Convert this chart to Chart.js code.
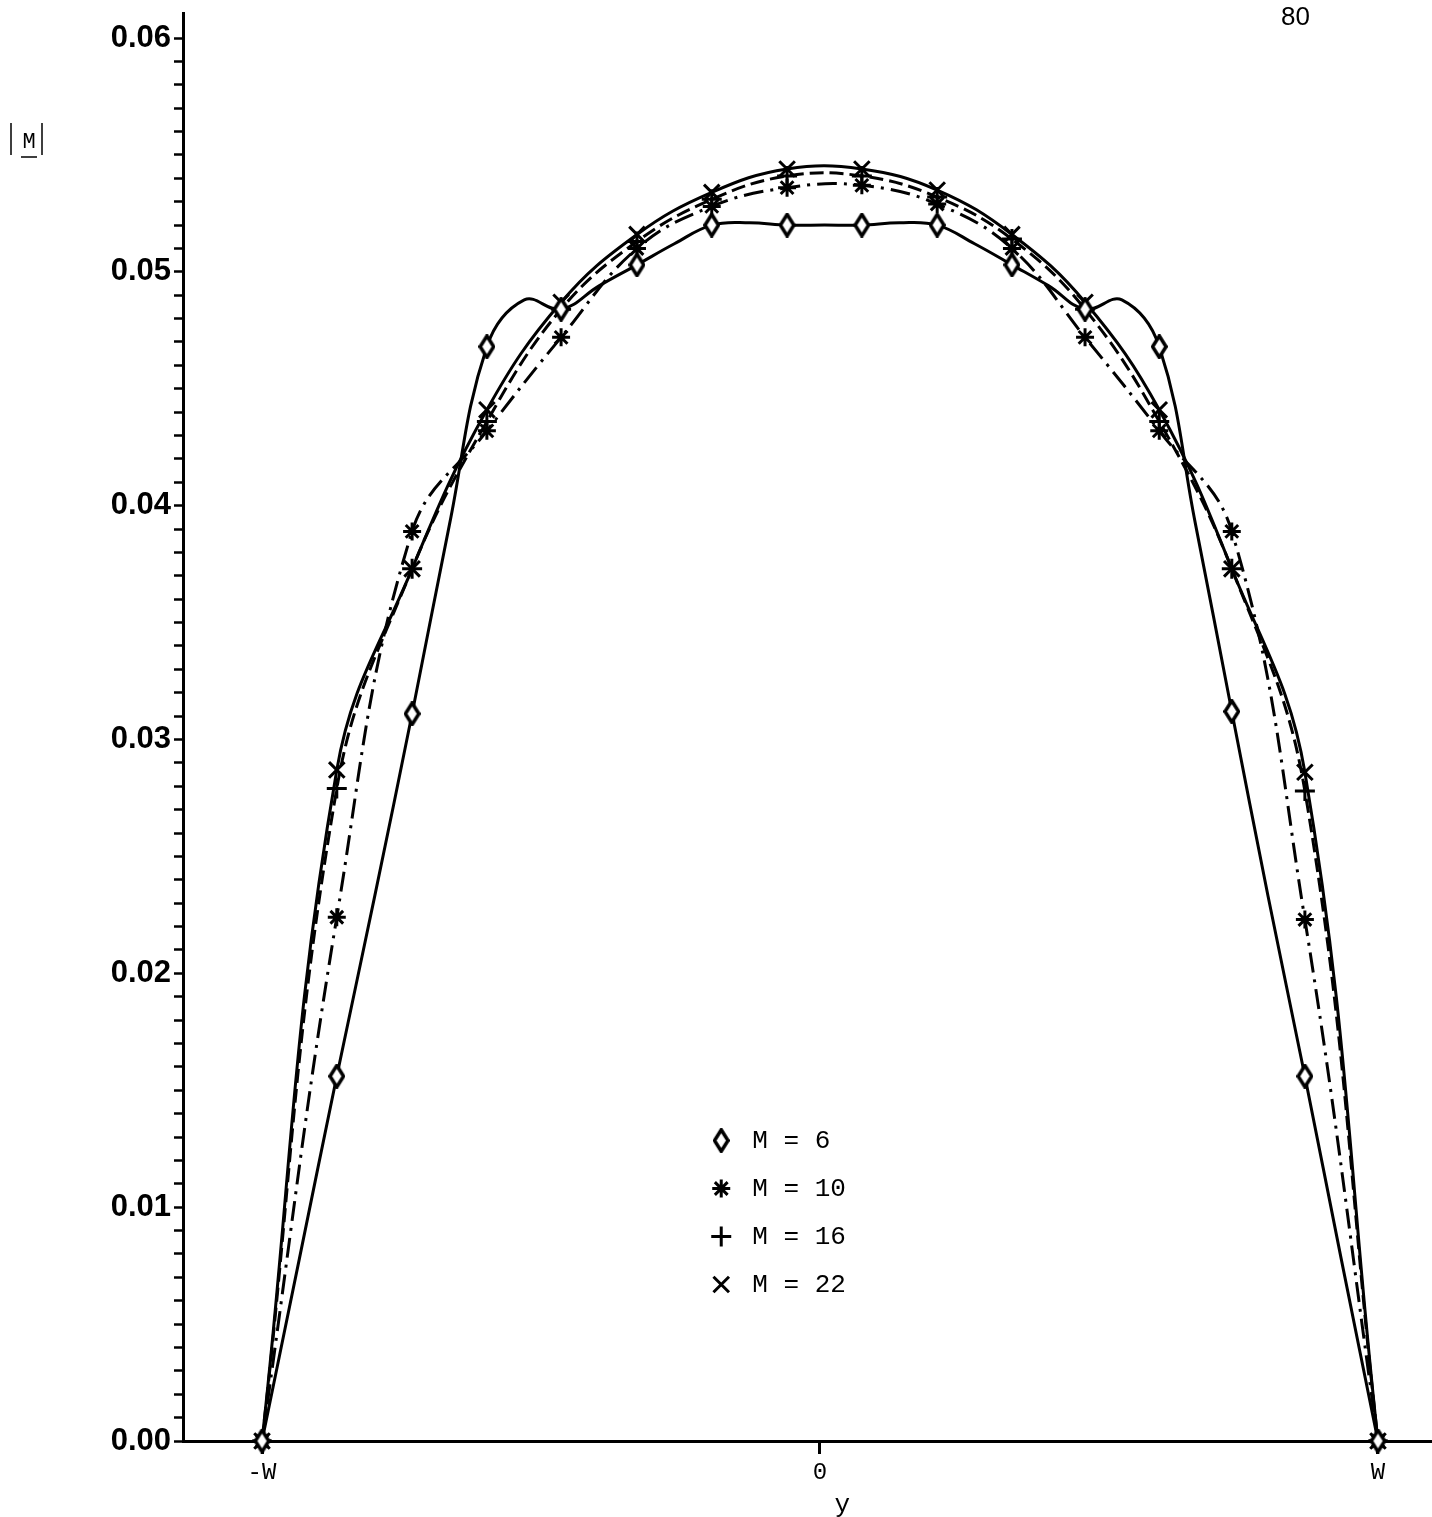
<!DOCTYPE html>
<html>
<head>
<meta charset="utf-8">
<title>|M| across the strip</title>
<script src="https://cdn.jsdelivr.net/npm/chart.js@4.4.0/dist/chart.umd.min.js"></script>
<style>
  html, body { margin: 0; padding: 0; background: #fff; }
  #wrap { width: 1432px; height: 1517px; }
</style>
</head>
<body>
<div id="wrap"><canvas id="chart" width="1432" height="1517"></canvas></div>
<script>
// marker positions across the strip, in units of the half width W
const positions = [-1, -0.866, -0.731, -0.597, -0.464, -0.328, -0.194, -0.059,
                   0.075, 0.210, 0.344, 0.475, 0.608, 0.738, 0.869, 1];
// M = 6 is also read halfway between its markers (it has a shoulder near +-0.53 W)
const positionsM6 = [-1, -0.933, -0.866, -0.798, -0.731, -0.664, -0.597, -0.530,
                     -0.464, -0.396, -0.328, -0.261, -0.194, -0.126, -0.059, 0.008,
                     0.075, 0.142, 0.210, 0.277, 0.344, 0.410, 0.475, 0.541,
                     0.608, 0.673, 0.738, 0.803, 0.869, 0.934, 1];

const magM6 = [0, 0.0078, 0.0156, 0.0233, 0.0311, 0.0392, 0.0468, 0.0488,
               0.0484, 0.0494, 0.0503, 0.0512, 0.0520, 0.0521, 0.0520, 0.0520,
               0.0520, 0.0521, 0.0520, 0.0512, 0.0503, 0.0494, 0.0484, 0.0488,
               0.0468, 0.0392, 0.0312, 0.0233, 0.0156, 0.0078, 0];
const magM10 = [0, 0.0224, 0.0389, 0.0432, 0.0472, 0.0510, 0.0528, 0.0536,
                0.0537, 0.0529, 0.0510, 0.0472, 0.0432, 0.0389, 0.0223, 0];
const magM16 = [0, 0.0279, 0.0373, 0.0436, 0.0484, 0.0513, 0.0531, 0.0541,
                0.0541, 0.0532, 0.0514, 0.0484, 0.0436, 0.0373, 0.0278, 0];
const magM22 = [0, 0.0287, 0.0373, 0.0441, 0.0487, 0.0516, 0.0534, 0.0544,
                0.0544, 0.0535, 0.0516, 0.0487, 0.0441, 0.0373, 0.0286, 0];

const xTickValues = [-1, 0, 1];
const xTickLabels = ['-W', '0', 'W'];
const yTickLabels = ['0.00', '0.01', '0.02', '0.03', '0.04', '0.05', '0.06'];
const legendLabels = ['M = 6', 'M = 10', 'M = 16', 'M = 22'];

const MONO = "'Liberation Mono', 'DejaVu Sans Mono', monospace";
const SANS = "'Liberation Sans', Arial, sans-serif";

document.addEventListener('DOMContentLoaded', function() {
    createChart();
});

function toPoints(xs, ys) {
    return xs.map((x, i) => ({ x: x, y: ys[i] }));
}

// open diamond, a little taller than wide
function makeDiamond(w, h, lw) {
    const c = document.createElement('canvas');
    c.width = w;
    c.height = h;
    const g = c.getContext('2d');
    g.beginPath();
    g.moveTo(w / 2, lw / 2);
    g.lineTo(w - lw / 2, h / 2);
    g.lineTo(w / 2, h - lw / 2);
    g.lineTo(lw / 2, h / 2);
    g.closePath();
    g.fillStyle = '#fff';
    g.fill();
    g.lineWidth = lw;
    g.strokeStyle = '#000';
    g.stroke();
    return c;
}

// axis titles, page number and the legend block inside the plot
const labelsPlugin = {
    id: 'labels',
    afterDraw(chart) {
        const ctx = chart.ctx;
        const xs = chart.scales.x;
        const ys = chart.scales.y;
        ctx.save();
        ctx.fillStyle = '#000';
        ctx.strokeStyle = '#000';

        // |M| with M underlined
        ctx.lineWidth = 1.5;
        ctx.beginPath();
        ctx.moveTo(11, 123); ctx.lineTo(11, 155);
        ctx.moveTo(42, 123); ctx.lineTo(42, 155);
        ctx.moveTo(21, 157); ctx.lineTo(37, 157);
        ctx.stroke();
        ctx.font = '22px ' + MONO;
        ctx.textAlign = 'center';
        ctx.textBaseline = 'alphabetic';
        ctx.fillText('M', 29, 148);

        // horizontal coordinate
        ctx.font = '26px ' + MONO;
        ctx.fillText('y', xs.getPixelForValue(0.04), 1512);

        // page number
        ctx.font = '26px ' + SANS;
        ctx.textAlign = 'left';
        ctx.fillText('80', 1281, 25);

        // legend
        const lx = xs.getPixelForValue(-0.177);
        const ly = ys.getPixelForValue(0.01285);
        ctx.font = '26px ' + MONO;
        ctx.textBaseline = 'middle';
        chart.data.datasets.forEach(function(ds, i) {
            const cy = ly + i * 48;
            ctx.lineWidth = 3;
            ctx.strokeStyle = '#000';
            ctx.fillStyle = '#fff';
            Chart.helpers.drawPoint(ctx, {
                pointStyle: ds.pointStyle,
                radius: ds.legendRadius,
                borderWidth: 3,
                rotation: 0
            }, lx, cy);
            ctx.fillStyle = '#000';
            ctx.fillText(ds.label, lx + 31, cy + 1);
        });
        ctx.restore();
    }
};

function createChart() {
    const diamond = makeDiamond(17, 25, 3.5);
    const ctx = document.getElementById('chart').getContext('2d');

    const lineBase = {
        borderColor: '#000',
        borderWidth: 3,
        tension: 0.4,
        fill: false,
        clip: false,
        pointBorderColor: '#000',
        pointBackgroundColor: '#fff',
        pointBorderWidth: 3
    };

    new Chart(ctx, {
        type: 'line',
        data: {
            datasets: [
                Object.assign({}, lineBase, {
                    label: legendLabels[0],
                    data: toPoints(positionsM6, magM6),
                    pointStyle: diamond,
                    legendRadius: 10,
                    pointRadius: c => (c.dataIndex % 2 === 0 ? 10 : 0)
                }),
                Object.assign({}, lineBase, {
                    label: legendLabels[1],
                    data: toPoints(positions, magM10),
                    borderDash: [20, 7, 3, 7],
                    pointStyle: 'star',
                    legendRadius: 9,
                    pointRadius: 9
                }),
                Object.assign({}, lineBase, {
                    label: legendLabels[2],
                    data: toPoints(positions, magM16),
                    borderDash: [14, 6],
                    pointStyle: 'cross',
                    legendRadius: 10,
                    pointRadius: 10
                }),
                Object.assign({}, lineBase, {
                    label: legendLabels[3],
                    data: toPoints(positions, magM22),
                    pointStyle: 'crossRot',
                    legendRadius: 11,
                    pointRadius: 11
                })
            ]
        },
        options: {
            responsive: false,
            animation: false,
            devicePixelRatio: 1,
            events: [],
            layout: {
                autoPadding: false,
                padding: { top: 13, left: 0, right: 0, bottom: 0 }
            },
            plugins: {
                legend: { display: false },
                tooltip: { enabled: false }
            },
            scales: {
                x: {
                    type: 'linear',
                    min: -1.1416,
                    max: 1.0968,
                    border: { display: true, color: '#000', width: 3 },
                    grid: {
                        drawOnChartArea: false,
                        drawTicks: true,
                        tickLength: 13,
                        tickColor: '#000',
                        tickWidth: 3
                    },
                    ticks: {
                        autoSkip: false,
                        maxRotation: 0,
                        color: '#000',
                        padding: 4,
                        font: { family: MONO, size: 24 },
                        callback: function(value) {
                            const i = xTickValues.indexOf(value);
                            return i >= 0 ? xTickLabels[i] : '';
                        }
                    },
                    afterBuildTicks: function(scale) {
                        scale.ticks = xTickValues.map(v => ({ value: v }));
                    },
                    afterFit: function(scale) {
                        scale.height = 76;
                        scale.paddingLeft = 0;
                        scale.paddingRight = 0;
                    }
                },
                y: {
                    type: 'linear',
                    min: 0,
                    max: 0.06107,
                    border: { display: true, color: '#000', width: 3 },
                    grid: {
                        drawOnChartArea: false,
                        drawTicks: true,
                        tickLength: 9,
                        tickColor: '#000',
                        tickWidth: 2.5
                    },
                    ticks: {
                        autoSkip: false,
                        color: '#000',
                        padding: 3,
                        font: { family: SANS, size: 31, weight: 'bold' },
                        callback: function(value) {
                            const i = Math.round(value * 1000);
                            return i % 10 === 0 ? yTickLabels[i / 10] : '';
                        }
                    },
                    // minor ticks every 0.001, labelled every 0.01
                    afterBuildTicks: function(scale) {
                        const ticks = [];
                        for (let i = 0; i <= 60; i++) {
                            ticks.push({ value: i / 1000 });
                        }
                        scale.ticks = ticks;
                    },
                    afterFit: function(scale) {
                        scale.width = 183;
                        scale.paddingTop = 0;
                        scale.paddingBottom = 0;
                    }
                }
            }
        },
        plugins: [labelsPlugin]
    });
}
</script>
</body>
</html>
